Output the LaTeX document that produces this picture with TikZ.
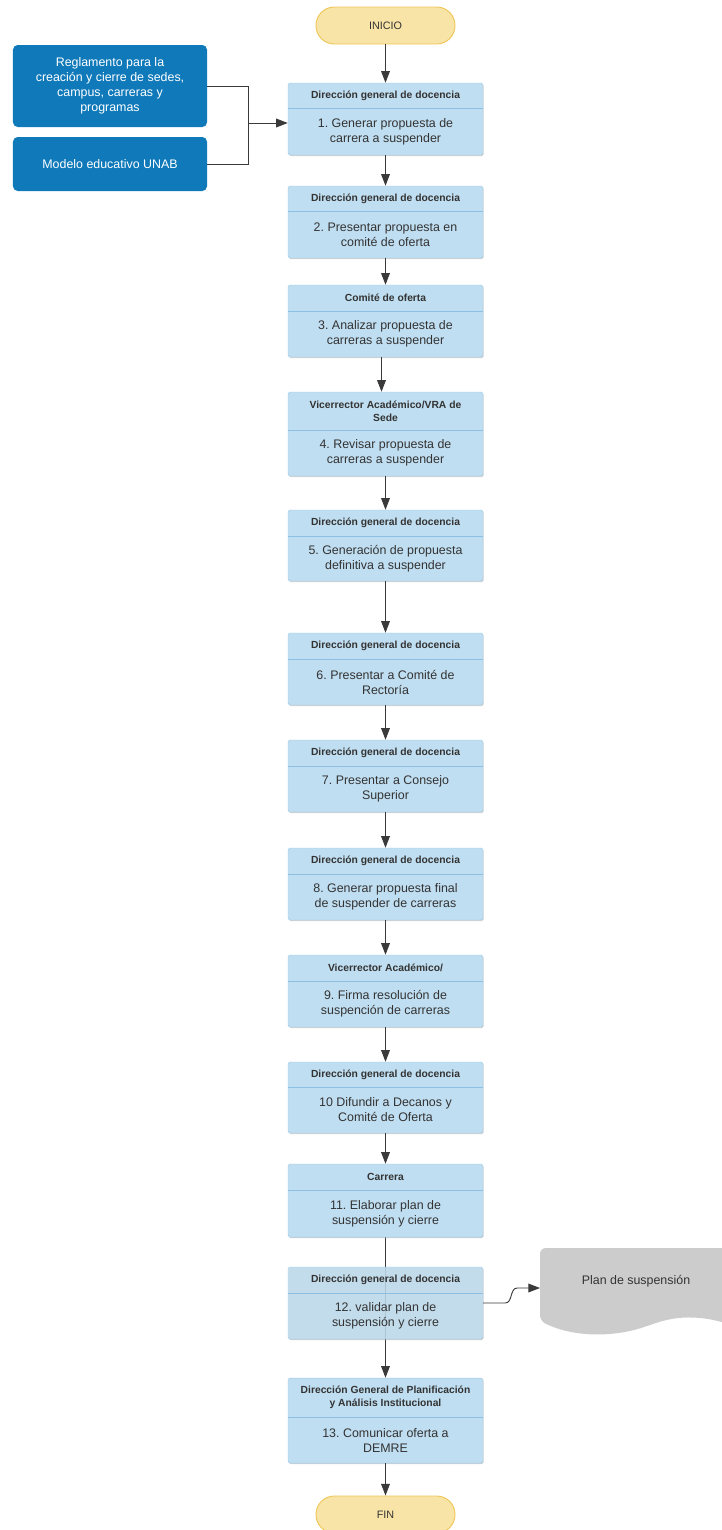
\documentclass[tikz,border=0pt]{standalone}
\usepackage{fontspec}
\setmainfont{Liberation Sans}
\usetikzlibrary{fit, arrows.meta, shadows, backgrounds}
\frenchspacing

\definecolor{boxblue}{HTML}{C0DEF1}
\definecolor{boxedge}{HTML}{9FCAE8}
\definecolor{sepblue}{HTML}{8DBFE2}
\definecolor{srcblue}{HTML}{0F79BA}
\definecolor{termfill}{HTML}{F8E4A6}
\definecolor{termedge}{HTML}{EFC65A}
\definecolor{docgray}{HTML}{CCCCCC}
\definecolor{txtgray}{HTML}{333333}
\definecolor{linegray}{HTML}{3A3A3A}

\tikzset{
  procbox/.style={draw=boxedge, fill=boxblue, rounded corners=1.5pt, inner sep=0pt,
    drop shadow={shadow xshift=0.6pt, shadow yshift=-1pt, opacity=0.35}},
  sepline/.style={draw=sepblue, line width=0.6pt},
  headtxt/.style={font=\bfseries\fontsize{8.8}{11}\selectfont, text=txtgray, align=center},
  bodytxt/.style={font=\fontsize{10.6}{12.8}\selectfont, text=txtgray, align=center},
  srcbox/.style={fill=srcblue, rounded corners=4pt, text=white, align=center,
    font=\fontsize{10.6}{12.8}\selectfont, minimum width=5.82cm},
  termnode/.style={draw=termedge, line width=0.8pt, fill=termfill, rounded corners=0.55cm,
    minimum width=4.17cm, minimum height=1.11cm, font=\fontsize{9.2}{11}\selectfont, text=txtgray},
  link/.style={draw=linegray, line width=0.8pt},
  arr/.style={link, -{Triangle[length=10pt,width=7.5pt]}},
}

% one process box: name, top, header bottom, bottom, header, text
\newcommand{\flowstep}[7][]{%
  \node[procbox, #1, fit={(288,#3) (483,#5)}] (#2) {};
  \draw[sepline] (288,#4) -- (483,#4);
  \node[headtxt] (#2-head) at (385.5,{(#3+#4)/2}) {#6};
  \node[bodytxt] (#2-text) at (385.5,{(#4+#5)/2}) {#7};
}

\begin{document}
\begin{tikzpicture}[x=0.03cm, y=-0.03cm]
\useasboundingbox (0,0) rectangle (721,1530);

\node[termnode] (start) at (385.5,25.5) {INICIO};

\node[srcbox, minimum height=2.46cm] (regl) at (110,86)
  {Reglamento para la\\creación y cierre de sedes,\\campus, carreras y\\programas};
\node[srcbox, minimum height=1.62cm] (modelo) at (110,164) {Modelo educativo UNAB};

\flowstep{b1}{83}{108}{155}{Dirección general de docencia}{1. Generar propuesta de\\carrera a suspender}
\flowstep{b2}{186}{211}{258}{Dirección general de docencia}{2. Presentar propuesta en\\comité de oferta}
\flowstep{b3}{285}{311}{357}{Comité de oferta}{3. Analizar propuesta de\\carreras a suspender}
\flowstep{b4}{392}{430}{476}{Vicerrector Académico/VRA de\\Sede}{4. Revisar propuesta de\\carreras a suspender}
\flowstep{b5}{510}{536}{581}{Dirección general de docencia}{5. Generación de propuesta\\definitiva a suspender}
\flowstep{b6}{633}{659}{705}{Dirección general de docencia}{6. Presentar a Comité de\\Rectoría}
\flowstep{b7}{740}{766}{812}{Dirección general de docencia}{7. Presentar a Consejo\\Superior}
\flowstep{b8}{848}{874}{920}{Dirección general de docencia}{8. Generar propuesta final\\de suspender de carreras}
\flowstep{b9}{955}{981}{1027}{Vicerrector Académico/}{9. Firma resolución de\\suspención de carreras}
\flowstep{b10}{1062}{1087}{1133}{Dirección general de docencia}{10 Difundir a Decanos y\\Comité de Oferta}
\flowstep{b11}{1164}{1190}{1237}{Carrera}{11. Elaborar plan de\\suspensión y cierre}
\flowstep[fill opacity=0.82]{b12}{1267}{1293}{1339}{Dirección general de docencia}{12. validar plan de\\suspensión y cierre}
\flowstep{b13}{1378}{1417}{1463}{Dirección General de Planificación\\y Análisis Institucional}{13. Comunicar oferta a\\DEMRE}

\node[termnode] (fin) at (385.5,1514.5) {FIN};

% document shape
\fill[docgray, rounded corners=5pt] (740,1248) -- (540,1248) -- (540,1321)
  .. controls (575,1338) and (615,1337) .. (650,1325)
  .. controls (685,1313) and (712,1318) .. (740,1328) -- cycle;
\node[bodytxt] (plan) at (636,1281) {Plan de suspensión};
\coordinate (planin) at (540,1288);

% inputs
\coordinate (merge) at (248,123);
\draw[link] (regl.east) -| (merge);
\draw[link] (modelo.east) -| (merge);
\draw[arr] (merge) -- (b1.west |- merge);

% main flow
\foreach \a/\b in {start/b1, b1/b2, b2/b3, b4/b5, b5/b6, b6/b7, b7/b8, b8/b9, b9/b10, b10/b11, b13/fin}
  \draw[arr] (\a) -- (\b);
\draw[arr] ([xshift=-0.12cm]b3.south) -- ([xshift=-0.12cm]b4.north);
\begin{pgfonlayer}{background}
  \draw[arr] (b11) -- (b13);
\end{pgfonlayer}

\draw[arr] (b12.east) -- ++(22,0) to[out=0, in=180] ++(12,-15) -- (planin);
\end{tikzpicture}
\end{document}
